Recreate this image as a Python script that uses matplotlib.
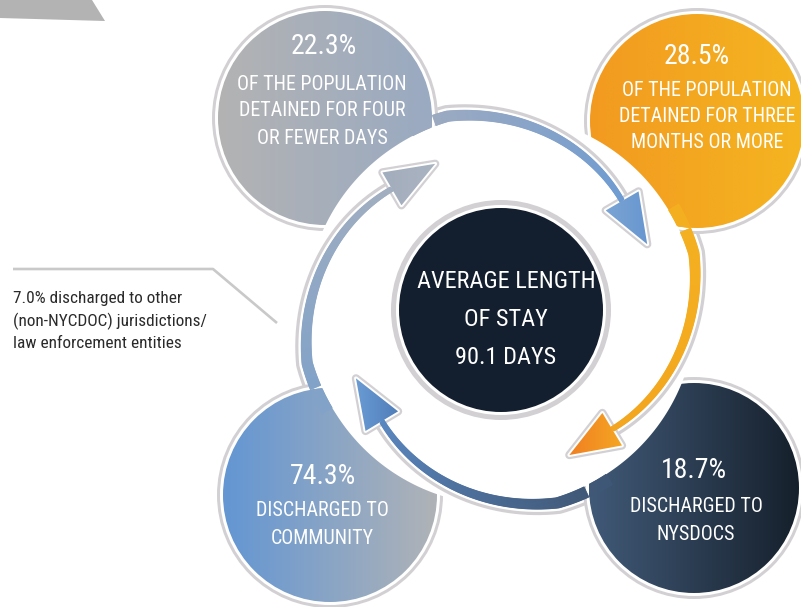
import numpy as np
import matplotlib
matplotlib.use('Agg')
import matplotlib.pyplot as plt
from matplotlib import font_manager as fm
from matplotlib.patches import Circle, Polygon
from matplotlib.colors import to_rgb

# chart content
bubble_values = ['22.3%', '28.5%', '18.7%', '74.3%']
bubble_labels = [['OF THE POPULATION', 'DETAINED FOR FOUR', 'OR FEWER DAYS'],
                 ['OF THE POPULATION', 'DETAINED FOR THREE', 'MONTHS OR MORE'],
                 ['DISCHARGED TO', 'NYSDOCS'],
                 ['DISCHARGED TO', 'COMMUNITY']]
center_lines = ['AVERAGE LENGTH', 'OF STAY', '90.1 DAYS']
other_lines = ['7.0% discharged to other', '(non-NYCDOC) jurisdictions/',
               'law enforcement entities']

# layout (pixels, y down)
W, H = 801, 607
CX, CY = 501, 310
bubbles = [(325, 118, 107), (697, 121, 107), (694, 488, 105), (330, 495, 107)]
bubble_cols = [('#b3b3b3', '#9aaac2'), ('#f29a20', '#f5b520'),
               ('#415a78', '#16202c'), ('#6396d3', '#b0b3b7')]
arrow_end = [-42, 47, 137, 228]
shaft_cols = [('#9caac1', '#6d9bd2'), ('#f4b020', '#f3a51f'),
              ('#405877', '#5a87c0'), ('#82a2c8', '#a3afc0')]
head_cols = [('#7aa4d4', '#6896cf'), ('#f07f22', '#f5a623'),
             ('#6a9bd3', '#4f7db8'), ('#a2adbd', '#aab3c0')]
value_pos = [(324, 46), (697, 56), (694, 471), (323, 476)]
value_w = [66, 68, 66, 64]
label_pos = [(322, 84, 27), (707, 90, 26), (696, 507, 28), (322, 510, 28)]
label_w = [[164, 165, 129], [162, 165, 143], [143, 84], [142, 121]]
center_w = [182, 78, 104]
other_w = [169, 195, 167]
OUTLINE = '#d3d0d4'


def pick_font():
    ents = fm.fontManager.ttflist
    names = {f.name for f in ents}
    for p in ['Noto Sans Condensed', 'Liberation Sans Narrow', 'Roboto Condensed',
              'Open Sans Condensed', 'DejaVu Sans Condensed', 'Noto Sans SemiCondensed']:
        if p in names:
            return fm.FontProperties(family=p)
    for f in ents:
        if 'ondensed' in str(f.stretch) and str(f.weight) in ('400', 'normal', 'regular') \
                and f.style == 'normal' and not f.name.startswith('Noto Sans CJK'):
            return fm.FontProperties(fname=f.fname)
    for p in ['Roboto', 'Liberation Sans', 'Noto Sans']:
        if p in names:
            return fm.FontProperties(family=p)
    return fm.FontProperties(family='DejaVu Sans')


FONT = pick_font()


def hgrad(ax, patch, c1, c2, z):
    patch.set_facecolor('none')
    patch.set_edgecolor('none')
    patch.set_zorder(z)
    ax.add_patch(patch)
    ext = patch.get_path().transformed(patch.get_patch_transform()).get_extents()
    t = np.linspace(0, 1, 256)[:, None]
    img = (1 - t) * np.array(to_rgb(c1)) + t * np.array(to_rgb(c2))
    im = ax.imshow(img[None, :, :], extent=(ext.x0, ext.x1, ext.y1, ext.y0),
                   aspect='auto', zorder=z, interpolation='bilinear')
    im.set_clip_path(patch)


def rad(th, e):
    return np.minimum(163 + 0.6 * (e - th), 201)


def wid(th, e):
    return np.clip(5 + 6 * (e - th) / 69, 5, 12)


def pt(th, r):
    a = np.radians(th)
    return np.column_stack([CX + r * np.cos(a), CY + r * np.sin(a)])


def mix(c1, c2, f):
    return tuple((1 - f) * np.array(to_rgb(c1)) + f * np.array(to_rgb(c2)))


fig = plt.figure(figsize=(W / 100, H / 100), dpi=100)
ax = fig.add_axes([0, 0, 1, 1])
ax.axis('off')

# corner shape and annotation leader
ax.add_patch(Polygon([(0, 0), (92, 0), (105, 21), (0, 18)], fc='#b3b3b3', ec='none', zorder=1))
ax.plot([13, 213, 277], [269, 269, 323], color='#c9c9c9', lw=1.9, zorder=1,
        solid_capstyle='butt')

# outer bubbles
for (bx, by, br), (c1, c2) in zip(bubbles, bubble_cols):
    ax.add_patch(Circle((bx, by), br + 6, fc=OUTLINE, ec='none', zorder=2))
    ax.add_patch(Circle((bx, by), br + 3, fc='white', ec='none', zorder=2.1))
    hgrad(ax, Circle((bx, by), br), c1, c2, 2.2)

# white spiral band cutting the bubbles (up to the inner edge of each shaft)
for e in arrow_end:
    th = np.linspace(e - 125, e, 200)
    edge = pt(th, rad(th, e) - wid(th, e) / 2)
    ax.add_patch(Polygon(np.vstack([[CX, CY], edge]), fc='white', ec='none', zorder=3))

# arrows
for k, e in enumerate(arrow_end):
    bx, by, br = bubbles[k]
    th = np.linspace(e - 118, e, 400)
    r = rad(th, e)
    w = wid(th, e)
    inner = pt(th, r - w / 2)
    outer = pt(th, r + w / 2)
    d_out = np.hypot(outer[:, 0] - bx, outer[:, 1] - by)
    s_idx = np.where(d_out < br)[0].max() + 1
    start = max(0, s_idx - 25)

    # outline beside the shaft, continuing the bubble outline
    lp = pt(th, r + w / 2 + 4.5)
    d = np.hypot(lp[:, 0] - bx, lp[:, 1] - by)
    l_idx = np.where(d < br + 4.5)[0].max() + 1
    ax.plot(lp[l_idx:, 0], lp[l_idx:, 1], color=OUTLINE, lw=2.3, zorder=4,
            solid_capstyle='butt')

    # shaft with gradient
    th_s = th[s_idx]
    c1, c2 = shaft_cols[k]
    for i in range(start, len(th) - 1):
        f = np.clip((th[i] - th_s) / (e - th_s), 0, 1)
        col = mix(c1, c2, f)
        q = [inner[i], outer[i], outer[i + 1], inner[i + 1]]
        p = Polygon(q, fc=col, ec=col, lw=0.6, zorder=5)
        ax.add_patch(p)
        if i < s_idx:
            clip = Circle((bx, by), br, transform=ax.transData)
            p.set_clip_path(clip)

    # head
    a = np.radians(e)
    r0 = rad(e, e)
    dr = -0.6 * 180 / np.pi
    tv = np.array([dr * np.cos(a) - r0 * np.sin(a), dr * np.sin(a) + r0 * np.cos(a)])
    tv /= np.hypot(*tv)
    nv = np.array([-tv[1], tv[0]])
    base = pt(np.array([e]), np.array([r0]))[0]
    tri = np.array([base + 19 * nv, base - 19 * nv, base + 50 * tv])
    ax.add_patch(Polygon(tri, fc='none', ec=OUTLINE, lw=6.0, joinstyle='round', zorder=4))
    ax.add_patch(Polygon(tri, fc='white', ec='white', lw=2.8, joinstyle='round', zorder=4.1))
    hgrad(ax, Polygon(tri, closed=True), head_cols[k][0], head_cols[k][1], 5.5)

# centre circle
ax.add_patch(Circle((CX, CY), 110, fc=OUTLINE, ec='none', zorder=6))
ax.add_patch(Circle((CX, CY), 105, fc='white', ec='none', zorder=6.1))
ax.add_patch(Circle((CX, CY), 102, fc='#131f2e', ec='none', zorder=6.2))

# texts
groups = []
vals = []
labs = []
for k in range(4):
    vx, vy = value_pos[k]
    vals.append((ax.text(vx, vy, bubble_values[k], color='white', fontproperties=FONT,
                         fontsize=19, ha='center', va='center', zorder=10), value_w[k]))
    lx, ly, step = label_pos[k]
    for j, line in enumerate(bubble_labels[k]):
        labs.append((ax.text(lx, ly + j * step, line, color='white', fontproperties=FONT,
                             fontsize=14, ha='center', va='center', zorder=10), label_w[k][j]))
groups += [vals, labs]

groups.append([(ax.text(506, 281 + j * 38, line, color='white', fontproperties=FONT,
                        fontsize=18, ha='center', va='center', zorder=10), center_w[j])
               for j, line in enumerate(center_lines)])
groups.append([(ax.text(13, 298 + j * 23, line, color='#2a2a2a', fontproperties=FONT,
                        fontsize=12, ha='left', va='center', zorder=10), other_w[j])
               for j, line in enumerate(other_lines)])

ax.set_xlim(0, W)
ax.set_ylim(H, 0)
ax.set_aspect('auto')

# size each text group so its widths match the original layout
fig.canvas.draw()
rend = fig.canvas.get_renderer()
for g in groups:
    meas = sum(t.get_window_extent(rend).width for t, _ in g)
    size = g[0][0].get_fontsize() * sum(tw for _, tw in g) / meas
    for t, _ in g:
        t.set_fontsize(size)

fig.savefig('out.png', dpi=100)
